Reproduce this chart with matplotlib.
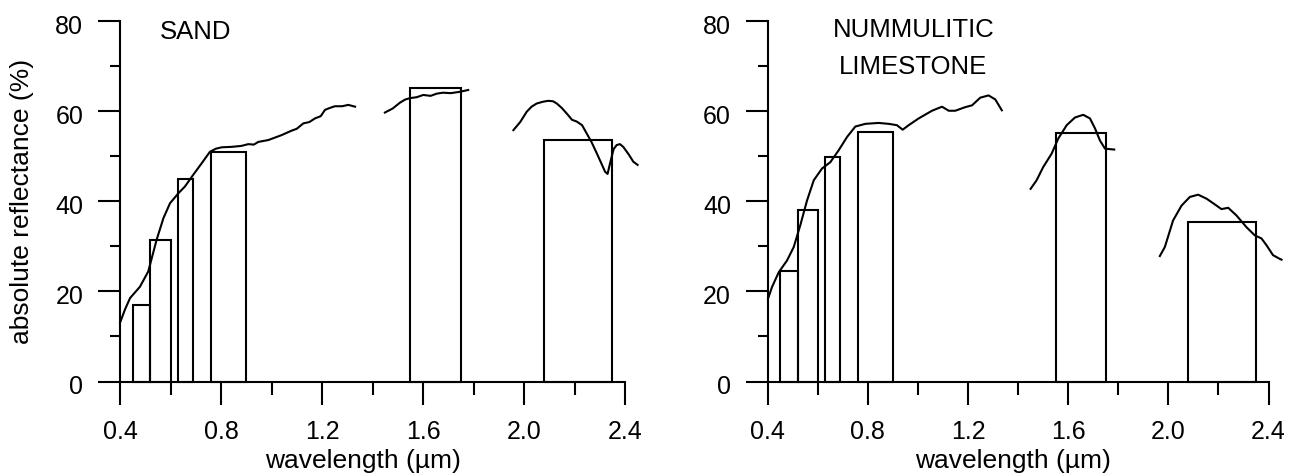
import matplotlib
matplotlib.use("Agg")
import matplotlib.pyplot as plt
from matplotlib.ticker import MultipleLocator
from matplotlib.transforms import ScaledTranslation

plt.rcParams['font.family'] = ['Liberation Sans', 'DejaVu Sans']

# Landsat TM band limits (um)
band_lo = [0.45, 0.52, 0.63, 0.76, 1.55, 2.08]
band_hi = [0.52, 0.60, 0.69, 0.90, 1.75, 2.35]

sand_bars = [17.0, 31.4, 44.8, 50.9, 65.0, 53.5]
lime_bars = [24.4, 37.9, 49.7, 55.2, 55.1, 35.3]

# SAND spectrum (three segments, water bands omitted)
sand_w1 = [0.400, 0.420, 0.440, 0.479, 0.512, 0.545, 0.572, 0.598, 0.631, 0.657, 0.690,
           0.724, 0.756, 0.780, 0.803, 0.842, 0.880, 0.908, 0.930, 0.948, 0.987, 1.040,
           1.080, 1.100, 1.126, 1.150, 1.172, 1.195, 1.212, 1.230, 1.251, 1.280, 1.304, 1.331]
sand_r1 = [13.0, 16.0, 18.5, 21.0, 24.4, 31.4, 36.2, 39.5, 41.7, 43.2, 45.8,
           48.4, 50.9, 51.6, 51.9, 52.0, 52.2, 52.6, 52.5, 53.1, 53.5, 54.6,
           55.6, 56.0, 57.2, 57.5, 58.3, 58.8, 60.2, 60.6, 61.0, 61.0, 61.3, 60.9]
sand_w2 = [1.449, 1.480, 1.509, 1.530, 1.549, 1.575, 1.601, 1.630, 1.655, 1.680, 1.710, 1.746, 1.779]
sand_r2 = [59.6, 60.5, 61.8, 62.5, 62.8, 63.0, 63.5, 63.3, 63.8, 64.0, 63.9, 64.2, 64.6]
sand_w3 = [1.958, 1.985, 2.011, 2.030, 2.050, 2.075, 2.096, 2.115, 2.130, 2.150, 2.169, 2.190,
           2.209, 2.230, 2.248, 2.268, 2.288, 2.305, 2.321, 2.331, 2.341, 2.355, 2.367, 2.380,
           2.393, 2.415, 2.433, 2.450]
sand_r3 = [55.7, 57.5, 59.8, 60.9, 61.6, 62.0, 62.2, 62.1, 61.6, 60.6, 59.4, 58.0,
           57.6, 56.8, 55.0, 53.0, 50.6, 48.5, 46.5, 46.0, 48.4, 51.5, 52.4, 52.6,
           52.0, 50.3, 48.7, 48.0]

# NUMMULITIC LIMESTONE spectrum
lime_w1 = [0.401, 0.417, 0.444, 0.477, 0.504, 0.530, 0.557, 0.584, 0.617, 0.650, 0.683,
           0.717, 0.750, 0.790, 0.843, 0.883, 0.916, 0.939, 0.963, 1.003, 1.056, 1.096,
           1.123, 1.149, 1.189, 1.216, 1.249, 1.282, 1.309, 1.335]
lime_r1 = [18.3, 20.9, 24.2, 26.8, 29.8, 34.6, 40.1, 44.6, 47.2, 48.6, 51.2,
           54.2, 56.5, 57.1, 57.3, 57.1, 56.8, 55.8, 56.8, 58.3, 60.0, 60.9,
           60.0, 60.0, 60.8, 61.2, 62.9, 63.4, 62.5, 60.1]
lime_w2 = [1.450, 1.474, 1.500, 1.534, 1.560, 1.594, 1.627, 1.660, 1.687, 1.707, 1.727, 1.747, 1.784]
lime_r2 = [42.7, 44.6, 47.5, 50.5, 53.8, 56.8, 58.5, 59.1, 58.3, 56.1, 53.4, 51.6, 51.4]
lime_w3 = [1.966, 1.986, 2.019, 2.053, 2.086, 2.119, 2.153, 2.192, 2.212, 2.239, 2.272,
           2.312, 2.345, 2.372, 2.392, 2.418, 2.444, 2.452]
lime_r3 = [27.8, 29.8, 35.7, 39.0, 40.9, 41.4, 40.5, 39.0, 38.2, 38.5, 36.8,
           34.2, 32.4, 31.7, 30.2, 28.0, 27.2, 27.0]

x_ticks = [0.4, 0.8, 1.2, 1.6, 2.0, 2.4]
x_ticklabels = ['0.4', '0.8', '1.2', '1.6', '2.0', '2.4']

W, H = 1303, 474
fig = plt.figure(figsize=(W / 100, H / 100), dpi=100)

def make_axes(left_px, right_px, bars, segments):
    bottom_px, top_px = 381.5, 20.5
    ax = fig.add_axes([left_px / W, 1 - bottom_px / H,
                       (right_px - left_px) / W, (bottom_px - top_px) / H])
    ax.set_xlim(0.4, 2.4)
    ax.set_ylim(0, 80)
    for s in ['top', 'right']:
        ax.spines[s].set_visible(False)
    for s in ['left', 'bottom']:
        ax.spines[s].set_linewidth(1.5)
    widths = [h - l for l, h in zip(band_lo, band_hi)]
    ax.bar(band_lo, bars, width=widths, align='edge', facecolor='none',
           edgecolor='black', linewidth=1.5, zorder=2, clip_on=False)
    for w, r in segments:
        ax.plot(w, r, color='black', linewidth=1.5, zorder=3, clip_on=False)
    ax.xaxis.set_minor_locator(MultipleLocator(0.2))
    ax.yaxis.set_major_locator(MultipleLocator(20))
    ax.yaxis.set_minor_locator(MultipleLocator(10))
    ax.set_xticks(x_ticks)
    ax.set_xticklabels(x_ticklabels)
    ax.tick_params(axis='x', which='major', length=16.5, width=1.5, pad=11, labelsize=18)
    ax.tick_params(axis='x', which='minor', length=9, width=1.5)
    ax.tick_params(axis='y', which='major', length=15.5, width=1.5, pad=11, labelsize=18)
    ax.tick_params(axis='y', which='minor', length=7.5, width=1.5)
    off = ScaledTranslation(0, -3.5 / 100, fig.dpi_scale_trans)
    for lab in ax.get_yticklabels():
        lab.set_transform(lab.get_transform() + off)
    return ax

ax1 = make_axes(120, 625, sand_bars,
                [(sand_w1, sand_r1), (sand_w2, sand_r2), (sand_w3, sand_r3)])
ax1.text(0.558, 76.0, "SAND", ha='left', va='baseline', fontsize=18.5)
ax1.set_ylabel("absolute reflectance (%)", fontsize=19)
ax1.yaxis.set_label_coords(-0.170, 0.5)

ax2 = make_axes(767.7, 1268.5, lime_bars,
                [(lime_w1, lime_r1), (lime_w2, lime_r2), (lime_w3, lime_r3)])
ax2.text(0.982, 76.3, "NUMMULITIC", ha='center', va='baseline', fontsize=18.5)
ax2.text(0.982, 68.2, "LIMESTONE", ha='center', va='baseline', fontsize=18.5)

fig.text(363 / W, 6 / H, "wavelength (µm)", ha='center', va='baseline', fontsize=19)
fig.text(1013 / W, 6 / H, "wavelength (µm)", ha='center', va='baseline', fontsize=19)

fig.savefig("out.png", dpi=100)
